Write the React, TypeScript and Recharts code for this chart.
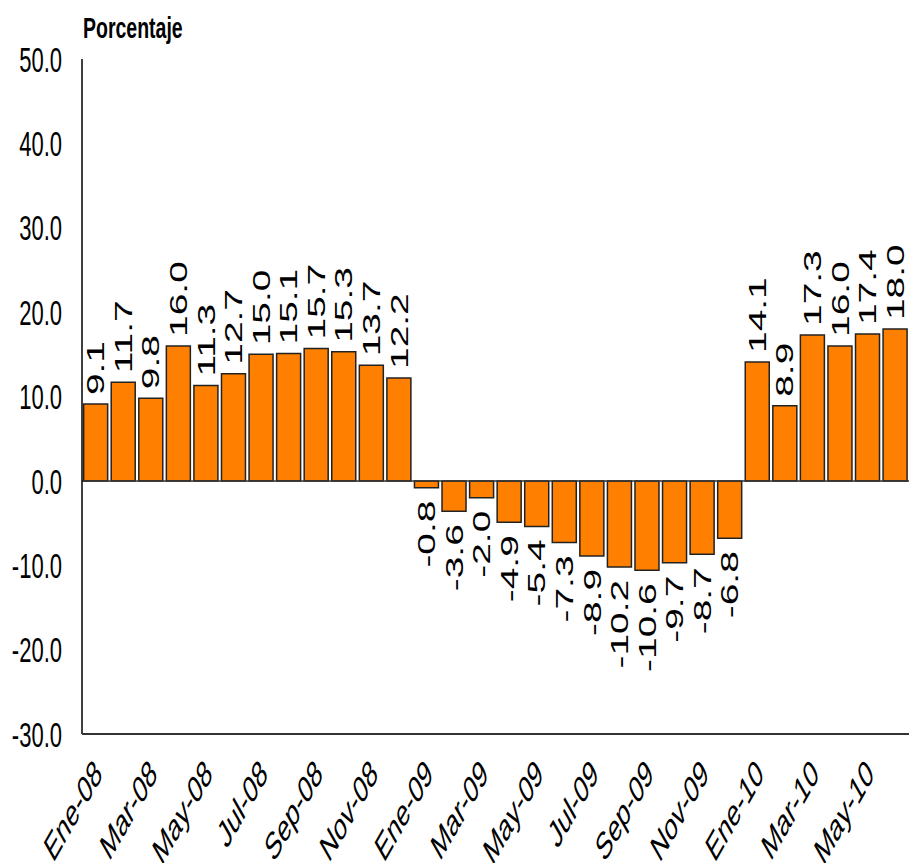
import React from 'react';
import { BarChart, Bar, XAxis, YAxis, ReferenceLine, LabelList } from 'recharts';

const categories = [
  'Ene-08', 'Feb-08', 'Mar-08', 'Abr-08', 'May-08', 'Jun-08', 'Jul-08', 'Ago-08', 'Sep-08', 'Oct-08', 'Nov-08', 'Dic-08',
  'Ene-09', 'Feb-09', 'Mar-09', 'Abr-09', 'May-09', 'Jun-09', 'Jul-09', 'Ago-09', 'Sep-09', 'Oct-09', 'Nov-09', 'Dic-09',
  'Ene-10', 'Feb-10', 'Mar-10', 'Abr-10', 'May-10', 'Jun-10',
];

const values = [
  9.1, 11.7, 9.8, 16.0, 11.3, 12.7, 15.0, 15.1, 15.7, 15.3, 13.7, 12.2,
  -0.8, -3.6, -2.0, -4.9, -5.4, -7.3, -8.9, -10.2, -10.6, -9.7, -8.7, -6.8,
  14.1, 8.9, 17.3, 16.0, 17.4, 18.0,
];

const yTicks = [-30, -20, -10, 0, 10, 20, 30, 40, 50];
const yTitle = 'Porcentaje';

const data = categories.map((c, i) => ({ month: c, value: values[i] }));

const FONT = '"Liberation Sans", Arial, Helvetica, sans-serif';
const STRETCH = 1.6;

const YTick = (props: any) => {
  const { x, y, payload } = props;
  return (
    <g transform={`translate(${x},${y}) scale(1,${STRETCH})`}>
      <text x={0} y={0} dy="0.36em" textAnchor="end" fontSize={22} fontFamily={FONT} fill="#000">
        {Number(payload.value).toFixed(1)}
      </text>
    </g>
  );
};

const XTick = (props: any) => {
  const { x, y, payload } = props;
  return (
    <g transform={`translate(${x + 2},${y}) scale(1,1.75) rotate(-45)`}>
      <text x={0} y={0} dy="0.36em" textAnchor="end" fontSize={22} fontFamily={FONT} fill="#000">
        {payload.value}
      </text>
    </g>
  );
};

const ValueLabel = (props: any) => {
  const { x, y, width, height, value } = props;
  const v = Number(value);
  const cx = Number(x) + Number(width) / 2;
  const top = Math.min(Number(y), Number(y) + Number(height));
  const bottom = Math.max(Number(y), Number(y) + Number(height));
  const pos = v >= 0;
  const oy = pos ? top - 9 : bottom + 13;
  return (
    <g transform={`translate(${cx},${oy}) scale(1,1.62) rotate(-90)`}>
      <text
        x={0}
        y={0}
        dy="0.36em"
        textAnchor={pos ? 'start' : 'end'}
        fontSize={24}
        fontFamily={FONT}
        fill="#000"
      >
        {v.toFixed(1)}
      </text>
    </g>
  );
};

export default function App() {
  return (
    <div style={{ position: 'absolute', left: 0, top: 0, width: 909, height: 863, background: '#fff', overflow: 'hidden' }}>
      <BarChart
        width={909}
        height={863}
        data={data}
        margin={{ top: 59, right: 0, left: 0, bottom: 0 }}
        barCategoryGap="6%"
      >
        <YAxis
          type="number"
          domain={[-30, 50]}
          ticks={yTicks}
          interval={0}
          width={82}
          tickLine={false}
          tickSize={0}
          tickMargin={20}
          axisLine={{ stroke: '#000', strokeWidth: 1.5 }}
          tick={<YTick />}
        />
        <XAxis
          dataKey="month"
          interval={1}
          height={129}
          tickLine={false}
          tickSize={0}
          tickMargin={32}
          axisLine={{ stroke: '#333', strokeWidth: 2 }}
          tick={<XTick />}
        />
        <ReferenceLine y={0} stroke="#333" strokeWidth={1.5} />
        <Bar dataKey="value" fill="#FF8000" stroke="#222" strokeWidth={1.5} isAnimationActive={false}>
          <LabelList dataKey="value" content={<ValueLabel />} />
        </Bar>
      </BarChart>
      <svg style={{ position: 'absolute', left: 0, top: 0 }} width={300} height={60}>
        <g transform={`translate(83,38) scale(1,1.5)`}>
          <text x={0} y={0} fontSize={19.5} fontWeight="bold" fontFamily={FONT} fill="#000">
            {yTitle}
          </text>
        </g>
      </svg>
    </div>
  );
}
